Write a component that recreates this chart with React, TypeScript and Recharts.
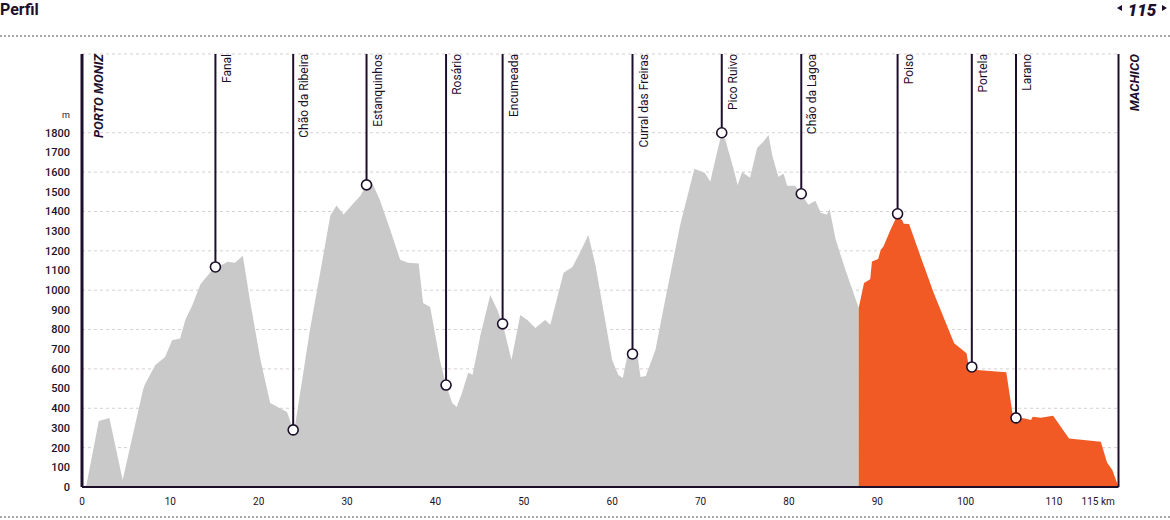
import {
  Area,
  CartesianGrid,
  ComposedChart,
  ReferenceDot,
  ReferenceLine,
  XAxis,
  YAxis,
} from "recharts";

const DARK = "#1d0f2b";
const GREY_FILL = "#c9c9c9";
const ORANGE_FILL = "#f15a24";
const FONT = "Roboto, 'Noto Sans', sans-serif";

// elevation profile, km along the route and metres
const PROFILE_KM = [
  0, 0.5, 1.9, 3.1, 4.6, 6.9, 7.1, 8.3, 9.4, 10.2, 11.1, 11.7, 12.5, 13.4, 14.7, 15.9, 16.5, 17.3, 18.2,
  19.0, 20.2, 21.3, 22.4, 23.2, 24.0, 24.9, 25.8, 27.0, 28.1, 28.8, 29.6, 30.4, 31.5, 32.2, 32.8, 33.7,
  34.9, 36.0, 36.9, 38.1, 38.6, 39.4, 40.5, 41.2, 41.9, 42.4, 43.0, 43.7, 44.2, 45.1, 46.2, 47.0, 47.7,
  48.6, 49.6, 50.4, 51.3, 52.4, 53.0, 54.5, 55.5, 56.4, 57.3, 58.1, 59.2, 60.0, 60.7, 61.2, 61.7, 62.3,
  62.9, 63.2, 63.8, 64.9, 66.0, 67.7, 69.3, 70.5, 71.1, 71.8, 72.4, 72.8, 73.7, 74.2, 74.7, 75.6, 76.4,
  77.1, 77.7, 78.1, 78.8, 79.4, 79.8, 80.7, 81.4, 82.2, 83.0, 83.6, 84.3, 84.6, 85.3, 86.4, 87.9, 88.5,
  89.2, 89.4, 90.1, 90.4, 90.7, 91.5, 92.2, 92.8, 93.0, 93.6, 94.9, 96.4, 98.7, 100.1, 100.4, 101.3,
  104.6, 105.3, 105.7, 106.6, 107.4, 107.6, 108.5, 109.9, 111.7, 115.3, 116.0, 116.6, 117.3,
];
const PROFILE_M = [
  0, 10, 335, 350, 35, 493, 520, 620, 660, 745, 755, 850, 925, 1030, 1100, 1130, 1145, 1140, 1175,
  950, 645, 427, 400, 381, 280, 540, 800, 1100, 1380, 1430, 1385, 1425, 1480, 1535, 1550, 1460,
  1305, 1155, 1140, 1135, 935, 915, 645, 518, 427, 407, 478, 580, 570, 773, 976, 900, 813,
  645, 874, 849, 808, 849, 824, 1088, 1118, 1195, 1281, 1129, 849, 645, 569, 554, 661, 676,
  661, 559, 564, 697, 951, 1332, 1617, 1596, 1551, 1688, 1800, 1764, 1622, 1535, 1601, 1571, 1723,
  1754, 1789, 1688, 1576, 1591, 1530, 1530, 1490, 1434, 1454, 1393, 1383, 1413, 1256, 1103, 910, 1036,
  1056, 1146, 1159, 1205, 1222, 1307, 1374, 1357, 1337, 1336, 1171, 985, 731, 680, 603, 595,
  583, 375, 349, 349, 341, 357, 352, 362, 247, 230, 124, 86, 0,
];
const SPLIT_KM = 87.9;
const END_KM = 117.3;

const WAYPOINT_NAMES = [
  "Fanal",
  "Chão da Ribeira",
  "Estanquinhos",
  "Rosário",
  "Encumeada",
  "Curral das Freiras",
  "Pico Ruivo",
  "Chão da Lagoa",
  "Poiso",
  "Portela",
  "Larano",
];
const WAYPOINT_KM = [15.1, 23.9, 32.2, 41.2, 47.6, 62.3, 72.4, 81.4, 92.3, 100.7, 105.7];
const WAYPOINT_M = [1118, 290, 1535, 518, 829, 676, 1800, 1490, 1388, 610, 351];

const START_NAME = "PORTO MONIZ";
const FINISH_NAME = "MACHICO";

const Y_TICKS = [0, 100, 200, 300, 400, 500, 600, 700, 800, 900, 1000, 1100, 1200, 1300, 1400, 1500, 1600, 1700, 1800];
const X_TICKS = [0, 10, 20, 30, 40, 50, 60, 70, 80, 90, 100, 110, 115];
const Y_TOP = 2200;

const data = PROFILE_KM.map((km, i) => ({
  km,
  grey: km <= SPLIT_KM ? PROFILE_M[i] : null,
  orange: km >= SPLIT_KM ? PROFILE_M[i] : null,
}));

const rotatedLabel = (name: string, bold: boolean) => (props: any) => {
  const { cx, cy } = props;
  const off = bold ? 16 : 11;
  return (
    <text
      transform={`translate(${cx + off}, ${cy}) rotate(-90)`}
      textAnchor="end"
      dy="0.35em"
      fill={DARK}
      fontFamily={FONT}
      fontSize={bold ? 13 : 12}
      fontWeight={bold ? 700 : 400}
      fontStyle={bold ? "italic" : "normal"}
    >
      {name}
    </text>
  );
};

const whiteDot = (props: any) => (
  <circle cx={props.cx} cy={props.cy} r={5} fill="#fff" stroke={DARK} strokeWidth={1.6} />
);

export default function App() {
  return (
    <div style={{ position: "absolute", left: 0, top: 0, width: 1170, height: 520, background: "#fff" }}>
      <ComposedChart
        width={1170}
        height={520}
        data={data}
        margin={{ top: 54, right: 51.5, bottom: 3, left: 22 }}
      >
        <CartesianGrid horizontal vertical={false} stroke="#d8cfcf" strokeDasharray="3 3" />
        <XAxis
          dataKey="km"
          type="number"
          domain={[0, END_KM]}
          ticks={X_TICKS}
          height={30}
          tickSize={0}
          tickMargin={11}
          tickFormatter={(v: number) => (v === 115 ? "115 km" : String(v))}
          tick={{ fontSize: 10, fill: DARK, fontFamily: FONT }}
          axisLine={{ stroke: DARK, strokeWidth: 2 }}
        />
        <YAxis
          type="number"
          domain={[0, Y_TOP]}
          ticks={Y_TICKS}
          width={60}
          tickSize={0}
          tickMargin={12}
          tick={{ fontSize: 11, fill: DARK, fontFamily: FONT, fontWeight: 500 }}
          axisLine={{ stroke: DARK, strokeWidth: 3 }}
        />
        <Area
          dataKey="grey"
          type="linear"
          stroke="none"
          fill={GREY_FILL}
          fillOpacity={1}
          isAnimationActive={false}
          connectNulls={false}
        />
        <Area
          dataKey="orange"
          type="linear"
          stroke="none"
          fill={ORANGE_FILL}
          fillOpacity={1}
          isAnimationActive={false}
          connectNulls={false}
        />
        <ReferenceLine
          segment={[{ x: END_KM, y: 0 }, { x: END_KM, y: Y_TOP }]}
          stroke={DARK}
          strokeWidth={2}
        />
        {WAYPOINT_KM.map((km, i) => (
          <ReferenceLine
            key={"l" + i}
            segment={[{ x: km, y: WAYPOINT_M[i] }, { x: km, y: Y_TOP }]}
            stroke={DARK}
            strokeWidth={2}
          />
        ))}
        {WAYPOINT_KM.map((km, i) => (
          <ReferenceDot key={"d" + i} x={km} y={WAYPOINT_M[i]} r={5} shape={whiteDot} />
        ))}
        {WAYPOINT_KM.map((km, i) => (
          <ReferenceDot
            key={"t" + i}
            x={km}
            y={Y_TOP}
            r={0}
            shape={rotatedLabel(WAYPOINT_NAMES[i], false)}
          />
        ))}
        <ReferenceDot x={0} y={Y_TOP} r={0} shape={rotatedLabel(START_NAME, true)} />
        <ReferenceDot x={END_KM} y={Y_TOP} r={0} shape={rotatedLabel(FINISH_NAME, true)} />
      </ComposedChart>
      <svg
        width={1170}
        height={520}
        style={{ position: "absolute", left: 0, top: 0, pointerEvents: "none" }}
      >
        <text x={0} y={15} fontFamily={FONT} fontSize={16} fontWeight={700} fill={DARK}>
          Perfil
        </text>
        <polygon points="1117,8 1122,5 1122,11" fill={DARK} />
        <text
          x={1142}
          y={16}
          textAnchor="middle"
          fontFamily={FONT}
          fontSize={17}
          fontWeight={900}
          fontStyle="italic"
          fill={DARK}
        >
          115
        </text>
        <polygon points="1167,8 1162,5 1162,11" fill={DARK} />
        <line x1={0} y1={36} x2={1170} y2={36} stroke="#a8a8a8" strokeWidth={2} strokeDasharray="2 2" />
        <line x1={0} y1={517} x2={1170} y2={517} stroke="#a8a8a8" strokeWidth={2} strokeDasharray="2 2" />
        <text x={66} y={118} textAnchor="middle" fontFamily={FONT} fontSize={9} fill={DARK}>
          m
        </text>
      </svg>
    </div>
  );
}
